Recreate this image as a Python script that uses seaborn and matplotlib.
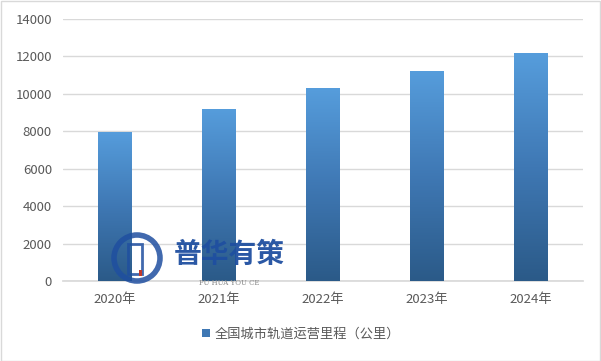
import numpy as np
import pandas as pd
import matplotlib
matplotlib.use("Agg")
import matplotlib.pyplot as plt
import seaborn as sns
from matplotlib.colors import LinearSegmentedColormap
from matplotlib.patches import Rectangle, Ellipse

years = ["2020年", "2021年", "2022年", "2023年", "2024年"]
mileage = [7978, 9192, 10287, 11224, 12160]
series_name = "全国城市轨道运营里程（公里）"
yticks = [0, 2000, 4000, 6000, 8000, 10000, 12000, 14000]

sns.set_theme(style="white")
plt.rcParams['font.family'] = ['Noto Sans CJK SC', 'DejaVu Sans']

df = pd.DataFrame({"year": years, "value": mileage})

W, H = 601, 361
fig = plt.figure(figsize=(W / 100, H / 100), dpi=100)
ax = fig.add_axes([63/W, 1 - 281/H, 520/W, 262/H])

sns.barplot(data=df, x="year", y="value", ax=ax, width=0.32, color="#4A8ACB", zorder=3)

ax.set_ylim(0, 14000)
ax.set_xlim(-0.5, 4.5)
ax.set_yticks(yticks)
ax.set_yticklabels([str(v) for v in yticks])
ax.yaxis.grid(True, color="#D9D9D9", linewidth=1, zorder=0)
ax.set_axisbelow(True)
for s in ax.spines.values():
    s.set_visible(False)
ax.spines['bottom'].set_visible(True)
ax.spines['bottom'].set_color("#D9D9D9")
ax.set_xlabel("")
ax.set_ylabel("")
ax.tick_params(axis='both', length=0, labelsize=9.5, colors="#595959", pad=8)
ax.tick_params(axis='x', pad=9)

# gradient fill on bars
cmap = LinearSegmentedColormap.from_list("g", ["#2B5A88", "#3F78B4", "#569DDC"])
grad = np.linspace(0, 1, 256).reshape(-1, 1)
for p in list(ax.patches):
    x0, y0 = p.get_x(), p.get_y()
    w, h = p.get_width(), p.get_height()
    im = ax.imshow(grad, cmap=cmap, origin="lower", aspect="auto",
                   extent=[x0, x0 + w, y0, y0 + h], zorder=4)
    im.set_clip_path(p)
    p.set_alpha(0)
ax.set_xlim(-0.5, 4.5)
ax.set_ylim(0, 14000)

# legend
handle = Rectangle((0, 0), 1, 1, facecolor="#3F78B4", edgecolor="none")
fig.legend([handle], [series_name], loc="center", bbox_to_anchor=(301/W, 1 - 334/H),
           frameon=False, fontsize=9.5, handlelength=0.6, handleheight=0.6,
           handletextpad=0.4, labelcolor="#595959")

# watermark
fig.text(229/W, 1 - 255/H, "普华有策", fontsize=20, fontweight="bold",
         color="#1F4FA0", ha="center", va="center", alpha=0.95)
fig.text(229/W, 1 - 283/H, "PU HUA YOU CE", fontsize=5, color="#888888",
         ha="center", va="center", family="DejaVu Serif")
r = 23
ring = Ellipse((137/W, 1 - 258/H), 2*r/W, 2*r/H, transform=fig.transFigure,
               fill=False, edgecolor="#1F4FA0", linewidth=4, alpha=0.85)
fig.add_artist(ring)
fig.add_artist(Rectangle((128/W, 1 - 274/H), 14/W, 30/H, transform=fig.transFigure,
                         fill=False, edgecolor="#1F4FA0", linewidth=2, alpha=0.85))
fig.add_artist(Rectangle((139/W, 1 - 276/H), 3/W, 6/H, transform=fig.transFigure,
                         facecolor="#C0392B", edgecolor="none"))

# border
fig.add_artist(Rectangle((0.5/W, 0.5/H), 1 - 1.5/W, 1 - 1.5/H,
                         transform=fig.transFigure, fill=False,
                         edgecolor="#D9D9D9", linewidth=1))

fig.savefig("out.png", dpi=100)
